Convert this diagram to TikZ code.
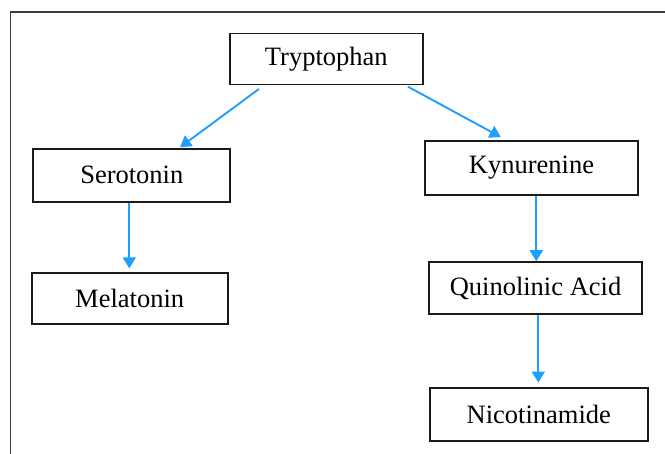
\documentclass[tikz,border=0pt]{standalone}
\usepackage{fontspec}
\setmainfont{Liberation Serif}
\usetikzlibrary{arrows.meta}
\definecolor{arrowblue}{HTML}{1E9EFF}
\definecolor{boxline}{HTML}{1A1A1A}
\begin{document}
\begin{tikzpicture}[x=1pt,y=-1pt,
  stepbox/.style={draw=boxline,line width=1.9pt,rectangle,inner sep=0pt,
    font=\fontsize{26.5}{31}\selectfont,anchor=center},
  flow/.style={draw=arrowblue,line width=1.9pt,-{Triangle[length=11pt,width=13pt]}}]
\useasboundingbox (0,0) rectangle (665,454);
% outer frame (top and left only)
\coordinate (ftop) at (665,12);
\coordinate (fcorner) at (10.5,12);
\coordinate (fbot) at (10.5,454);
\draw[boxline!85,line width=1.8pt] (ftop) -- (fcorner) -- (fbot);
% nodes
\node[stepbox,minimum width=192.7pt,minimum height=51pt] (tryp) at (326.3,59) {Tryptophan};
\node[stepbox,minimum width=197pt,minimum height=53pt] (sero) at (131.8,175.2) {Serotonin};
\node[stepbox,minimum width=196pt,minimum height=51pt] (mela) at (129.7,298.8) {Melatonin};
\node[stepbox,minimum width=212.4pt,minimum height=54.6pt] (kyn) at (531.5,168) {Kynurenine};
\node[stepbox,minimum width=213.6pt,minimum height=52.6pt] (quin) at (535.5,288) {Quinolinic Acid};
\node[stepbox,minimum width=217.7pt,minimum height=53pt] (nico) at (538.8,414.2) {Nicotinamide};
% connectors
\draw[flow] ([xshift=30pt,yshift=-3.5pt]tryp.south west) -- ([xshift=147.7pt,yshift=0.5pt]sero.north west);
\draw[flow] ([xshift=-15.7pt,yshift=-1.2pt]tryp.south east) -- ([xshift=76.4pt,yshift=2.7pt]kyn.north west);
\draw[flow] ([xshift=-2.5pt]sero.south) -- ([xshift=-0.4pt,yshift=4pt]mela.north);
\draw[flow] ([xshift=4.8pt]kyn.south) -- ([xshift=0.8pt,yshift=-0.5pt]quin.north);
\draw[flow] ([xshift=2.8pt]quin.south) -- ([xshift=-0.5pt,yshift=4.2pt]nico.north);
\end{tikzpicture}
\end{document}
